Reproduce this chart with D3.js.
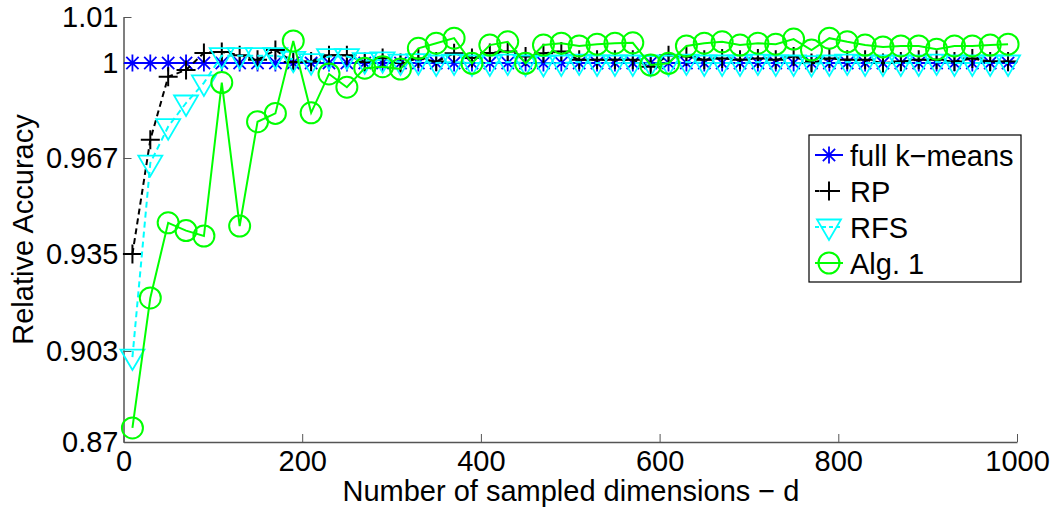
<!DOCTYPE html>
<html lang="en">
<head>
<meta charset="utf-8">
<title>Relative Accuracy vs sampled dimensions</title>
<script src="https://d3js.org/d3.v7.min.js"></script>
<style>
  html, body { margin: 0; padding: 0; background: #fff; }
  svg { display: block; font-family: "Liberation Sans", Arial, sans-serif; }
  .axis path, .axis line { stroke: #555; }
  .axis text { font-size: 29px; fill: #000; font-family: "Liberation Sans", Arial, sans-serif; }
</style>
</head>
<body>
<svg id="chart" width="1057" height="512"></svg>
<script>
// x values: d = 10, 30, ..., 990
const dims = [10,30,50,70,90,110,130,150,170,190,210,230,250,270,290,310,330,350,370,390,
              410,430,450,470,490,510,530,550,570,590,610,630,650,670,690,710,730,750,770,790,
              810,830,850,870,890,910,930,950,970,990];

const fullKmeans = dims.map(() => 1);

const rp = [0.935,0.9733,0.9952,0.9976,1.0022,1.0024,1.0017,1.0007,1.0028,1.0002,
            1.0003,1.0017,1.0017,1.0002,1.0011,1.0000,1.0010,1.0003,1.0021,1.0011,
            1.0022,1.0025,1.0014,1.0021,1.0025,1.0007,1.0007,1.0007,1.0007,0.9987,
            1.0017,1.0014,1.0007,1.0010,1.0007,1.0010,1.0007,1.0014,1.0000,1.0010,
            1.0007,1.0007,1.0000,1.0003,1.0007,1.0007,1.0003,1.0010,1.0003,1.0003];

const rfs = [0.9008,0.9653,0.9779,0.9861,0.9931,1.0016,1.0016,1.0016,1.0016,1.0008,
             1.0003,1.0014,1.0014,1.0005,1.0007,1.0002,1.0003,1.0000,1.0002,1.0000,
             1.0000,1.0002,1.0000,0.9998,1.0000,1.0002,1.0000,1.0000,1.0000,0.9998,
             1.0000,1.0002,1.0000,1.0000,1.0000,1.0002,1.0000,1.0000,0.9998,1.0000,
             1.0002,1.0000,1.0000,1.0000,1.0000,1.0002,1.0000,1.0000,1.0000,1.0000];

const alg1 = [0.8751,0.9205,0.9454,0.9428,0.9410,0.9932,0.9443,0.9796,0.9825,1.0048,
              0.9827,0.9962,0.9916,0.9982,0.9987,0.9979,1.0032,1.0043,1.0054,0.9999,
              1.0039,1.0046,0.9999,1.0039,1.0043,1.0037,1.0041,1.0043,1.0044,0.9993,
              0.9999,1.0037,1.0043,1.0046,1.0039,1.0043,1.0041,1.0052,1.0028,1.0054,
              1.0046,1.0039,1.0035,1.0037,1.0037,1.0030,1.0037,1.0037,1.0039,1.0041];

const xTicks = [0,200,400,600,800,1000];
const yTicks = [0.87,0.903,0.935,0.967,1,1.01];
const yTickLabels = ["0.87","0.903","0.935","0.967","1","1.01"];

const seriesNames = ["full k\u2212means","RP","RFS","Alg. 1"];

// plot box
const plotLeft = 123.5, plotRight = 1017, plotBottom = 442;

const svg = d3.select("#chart");

const x = d3.scaleLinear().domain([0,1000]).range([plotLeft,plotRight]);
// tick marks in the figure are not evenly spaced in value, so map them piecewise
const y = d3.scaleLinear().domain(yTicks).range([442,351,254,158,63,17]);

// axes (MATLAB style: ticks point inward)
svg.append("g")
  .attr("class","axis")
  .attr("transform",`translate(0,${plotBottom})`)
  .call(d3.axisBottom(x).tickValues(xTicks).tickSizeInner(-8).tickSizeOuter(0).tickPadding(8).tickFormat(d3.format("d")))
  .call(g => g.select(".domain").attr("stroke-width",1.5))
  .call(g => g.selectAll(".tick line").attr("stroke","#222"));

svg.append("g")
  .attr("class","axis")
  .attr("transform",`translate(${plotLeft},0)`)
  .call(d3.axisLeft(y).tickValues(yTicks).tickSizeInner(-8).tickSizeOuter(0).tickPadding(5)
        .tickFormat((d,i) => yTickLabels[i]))
  .call(g => g.select(".domain").attr("stroke-width",1.5))
  .call(g => g.selectAll(".tick line").attr("stroke","#222"));

svg.append("text")
  .attr("x",571).attr("y",501)
  .attr("text-anchor","middle")
  .attr("font-size",29)
  .text("Number of sampled dimensions \u2212 d");

svg.append("text")
  .attr("transform","translate(33,229.5) rotate(-90)")
  .attr("text-anchor","middle")
  .attr("font-size",29)
  .text("Relative Accuracy");

// marker shapes
function drawMarker(g, type, color) {
  if (type === "star") {
    const r = 8.5, s = r * 0.72;
    g.append("path").attr("d",`M${-r},0H${r}M0,${-r}V${r}M${-s},${-s}L${s},${s}M${-s},${s}L${s},${-s}`)
      .attr("stroke",color).attr("stroke-width",1.8).attr("fill","none");
  } else if (type === "plus") {
    const r = 9.5;
    g.append("path").attr("d",`M${-r},0H${r}M0,${-r}V${r}`)
      .attr("stroke",color).attr("stroke-width",2).attr("fill","none");
  } else if (type === "tri") {
    g.append("path").attr("d","M-12,-7.5L12,-7.5L0,13Z")
      .attr("stroke",color).attr("stroke-width",1.8).attr("fill","none");
  } else {
    g.append("circle").attr("r",10.5)
      .attr("stroke",color).attr("stroke-width",2).attr("fill","none");
  }
}

const series = [
  {name: seriesNames[0], values: fullKmeans, color: "#0000ff", dash: null, marker: "star", width: 2},
  {name: seriesNames[1], values: rp, color: "#000000", dash: "6,4", marker: "plus", width: 2},
  {name: seriesNames[2], values: rfs, color: "#00ffff", dash: "6,4", marker: "tri", width: 2},
  {name: seriesNames[3], values: alg1, color: "#00ff00", dash: null, marker: "circle", width: 2}
];

const line = d3.line().x(d => x(d[0])).y(d => y(d[1]));

series.forEach(s => {
  const pts = dims.map((d,i) => [d, s.values[i]]);
  svg.append("path")
    .datum(pts)
    .attr("d",line)
    .attr("fill","none")
    .attr("stroke",s.color)
    .attr("stroke-width",s.width)
    .attr("stroke-dasharray",s.dash);
  svg.append("g").selectAll("g")
    .data(pts)
    .join("g")
    .attr("transform",d => `translate(${x(d[0])},${y(d[1])})`)
    .each(function() { drawMarker(d3.select(this), s.marker, s.color); });
});

// legend
const legend = svg.append("g").attr("transform","translate(809,135)");
legend.append("rect").attr("width",212).attr("height",147)
  .attr("fill","#fff").attr("stroke","#000").attr("stroke-width",1.2);

series.forEach((s,i) => {
  const row = legend.append("g").attr("transform",`translate(0,${20 + i * 36})`);
  row.append("line").attr("x1",6).attr("x2",34).attr("y1",0).attr("y2",0)
    .attr("stroke",s.color).attr("stroke-width",s.width).attr("stroke-dasharray",s.dash ? "4,3" : null);
  const m = row.append("g").attr("transform","translate(20,0)");
  drawMarker(m, s.marker, s.color);
  row.append("text").attr("x",41).attr("y",10.5)
    .attr("font-size",29)
    .text(s.name);
});
</script>
</body>
</html>
